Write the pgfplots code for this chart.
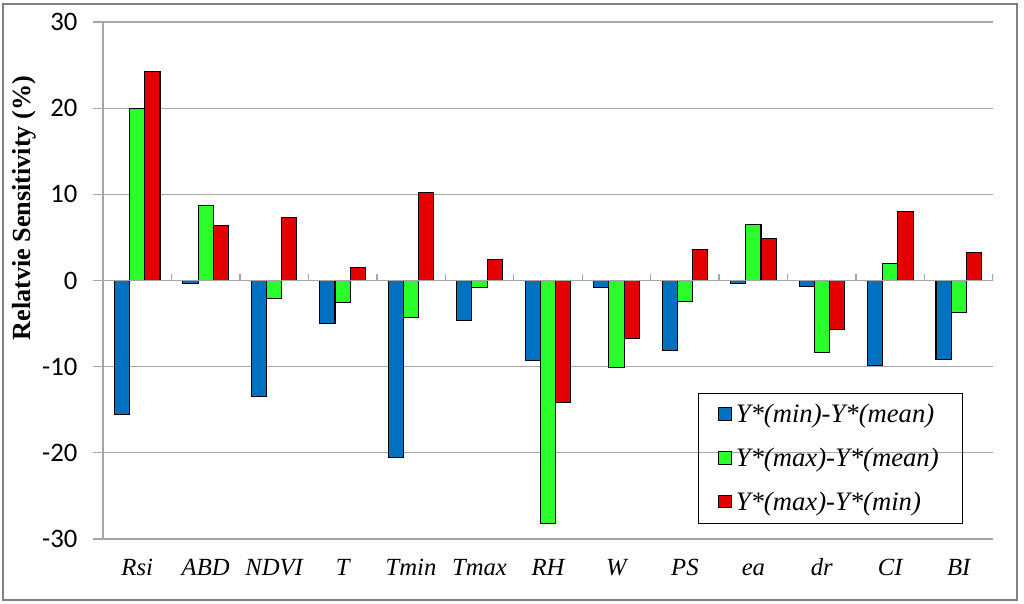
\documentclass[border=0pt]{standalone}
\usepackage{pgfplots}
\pgfplotsset{compat=1.18}
\usepackage{pgfplotstable}
\usepackage{fontspec}
\setmainfont{Liberation Serif}
\newfontfamily\carlito{Carlito}
\definecolor{cblue}{RGB}{0,112,192}
\definecolor{cgreen}{RGB}{43,255,43}
\definecolor{cred}{RGB}{228,0,0}
\definecolor{gridc}{RGB}{166,166,166}

\pgfplotstableread{
x blue green red
0 -15.5 20.0 24.3
1 -0.3 8.7 6.4
2 -13.5 -2.1 7.3
3 -5.0 -2.5 1.5
4 -20.5 -4.3 10.2
5 -4.6 -0.8 2.4
6 -9.3 -28.2 -14.2
7 -0.8 -10.1 -6.7
8 -8.1 -2.4 3.6
9 -0.4 6.5 4.9
10 -0.7 -8.4 -5.7
11 -9.9 2.0 8.0
12 -9.2 -3.7 3.2
}\datatable

\begin{document}
\begin{tikzpicture}
\useasboundingbox (0,0) rectangle (768pt,452.25pt);
\draw[gray, line width=1.5pt] (2.5pt,2.5pt) rectangle (763pt,449.5pt);
\begin{axis}[
  at={(77.25pt,48pt)}, anchor=south west,
  scale only axis, width=667.5pt, height=387.75pt,
  xmin=-0.5, xmax=12.5, ymin=-30, ymax=30,
  ybar=0pt, bar width=11.4pt,
  axis x line*=bottom,
  axis y line*=left,
  x axis line style={draw=none},
  y axis line style={gridc, line width=1pt},
  ytick={-30,-20,...,30},
  yticklabels={-30,-20,-10,0,10,20,30},
  ymajorgrids, grid style={gridc, line width=1pt},
  ytick style={gridc, line width=1pt},
  xtick style={draw=none},
  tick align=outside, major tick length=7.5pt,
  yticklabel style={font=\carlito\fontsize{20}{24}\selectfont, anchor=east, inner sep=0pt, xshift=-11.5pt},
  xtick={0,...,12},
  xticklabels={Rsi,ABD,NDVI,T,Tmin,Tmax,RH,W,PS,ea,dr,CI,BI},
  xticklabel style={font=\itshape\fontsize{18.5}{22}\selectfont, anchor=base, yshift=-20pt},
  ylabel={Relatvie Sensitivity (\%)},
  ylabel style={font=\bfseries\fontsize{19.6}{23}\selectfont, at={(axis description cs:-0.089,0.64)}, anchor=center},
  legend style={at={(0.6686,0.029)}, anchor=south west, draw=black, fill=none,
    font=\itshape\fontsize{20}{24}\selectfont, inner xsep=15pt, inner ysep=6.5pt, row sep=13.5pt,
    nodes={inner xsep=3pt}},
  legend cell align=left,
  legend image code/.code={\draw[#1, draw=black, line width=0.6pt] (0pt,-4.2pt) rectangle (9.5pt,5.3pt);},
]
\addplot[fill=cblue, draw=black, line width=0.8pt] table[x=x, y=blue] {\datatable};
\addplot[fill=cgreen, draw=black, line width=0.8pt] table[x=x, y=green] {\datatable};
\addplot[fill=cred, draw=black, line width=0.8pt] table[x=x, y=red] {\datatable};
\draw[gridc, line width=1pt] (axis cs:-0.5,0) -- (axis cs:12.5,0);
\pgfplotsinvokeforeach{0.5,1.5,2.5,3.5,4.5,5.5,6.5,7.5,8.5,9.5,10.5,11.5,12.5}{
  \draw[gridc, line width=1pt] (axis cs:#1,0) -- ++(0pt,4.5pt);
}
\legend{Y*(min)-Y*(mean), Y*(max)-Y*(mean), Y*(max)-Y*(min)}
\end{axis}
\end{tikzpicture}
\end{document}
